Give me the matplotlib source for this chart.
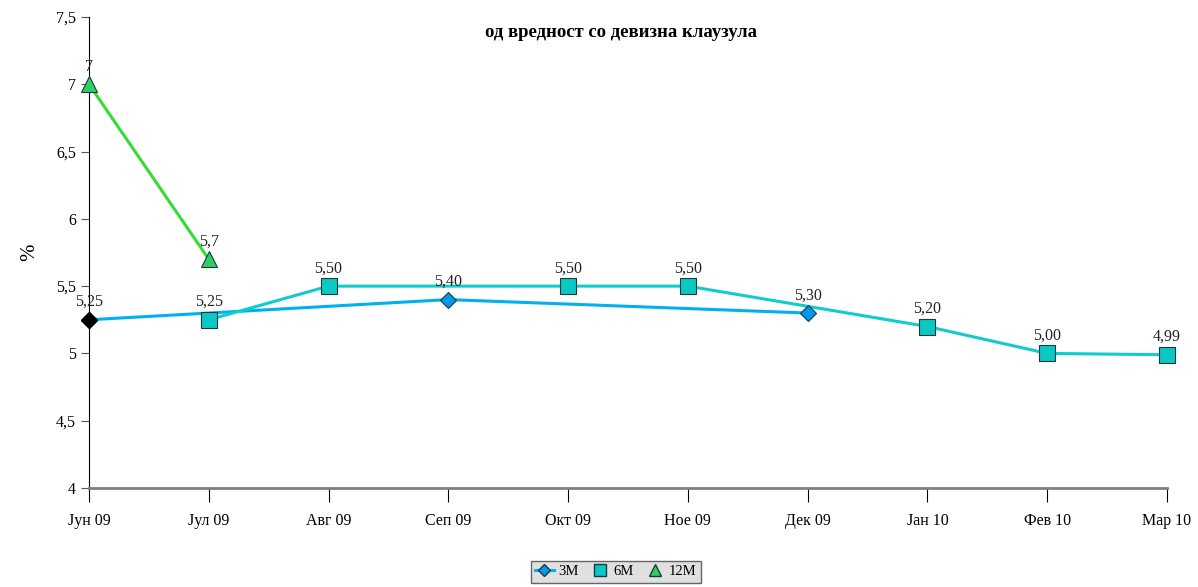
import numpy as np
import matplotlib.pyplot as plt
from matplotlib.lines import Line2D

plt.rcParams['font.family'] = ['Liberation Serif', 'DejaVu Serif']

months = ['Јун 09', 'Јул 09', 'Авг 09', 'Сеп 09', 'Окт 09', 'Ное 09', 'Дек 09', 'Јан 10', 'Фев 10', 'Мар 10']
m3 = [5.25, np.nan, np.nan, 5.40, np.nan, np.nan, 5.30, np.nan, np.nan, np.nan]
m6 = [np.nan, 5.25, 5.50, np.nan, 5.50, 5.50, np.nan, 5.20, 5.00, 4.99]
m12 = [7.0, 5.7, np.nan, np.nan, np.nan, np.nan, np.nan, np.nan, np.nan, np.nan]
lab3 = ['5,25', '', '', '5,40', '', '', '5,30', '', '', '']
lab6 = ['', '5,25', '5,50', '', '5,50', '5,50', '', '5,20', '5,00', '4,99']
lab12 = ['7', '5,7', '', '', '', '', '', '', '', '']

c3 = '#00B0F0'
c6 = '#11CCCC'
c12 = '#33DD33'

fig = plt.figure(figsize=(11.98, 5.87), dpi=100)
ax = fig.add_axes([0.0743, 0.1687, 0.8998, 0.8023])

x = np.arange(len(months))


def plot_series(vals, color, marker, ms, face, labels, lw=2.2):
    v = np.array(vals, dtype=float)
    ok = ~np.isnan(v)
    ax.plot(x[ok], v[ok], color=color, lw=lw, zorder=2, clip_on=False)
    ax.plot(x[ok], v[ok], ls='none', marker=marker, ms=ms, mfc=face,
            mec='#1a3a3a', mew=0.8, zorder=3, clip_on=False)
    for xi, vi, lb in zip(x, v, labels):
        if lb:
            ax.annotate(lb, (xi, vi), xytext=(0, 7), textcoords='offset points',
                        ha='center', va='bottom', fontsize=11.5, color='#222222')


plot_series(m3, c3, 'D', 8, '#0099EE', lab3)
# first 3M marker is black in the original
ax.plot(x[0], m3[0], ls='none', marker='D', ms=8, mfc='black', mec='black',
        zorder=4, clip_on=False)
plot_series(m6, c6, 's', 11, '#0CC8C4', lab6)
plot_series(m12, c12, '^', 12, '#33CC66', lab12)

ax.set_xlim(0, len(months) - 1)
ax.set_ylim(4, 7.5)
ax.set_yticks([4, 4.5, 5, 5.5, 6, 6.5, 7, 7.5])
ax.set_yticklabels(['4', '4,5', '5', '5,5', '6', '6,5', '7', '7,5'], fontsize=11.5)
ax.set_xticks(x)
ax.set_xticklabels(months, fontsize=11.5)
ax.tick_params(axis='x', length=10, pad=8, color='black')
ax.tick_params(axis='y', length=6, color='#555555')

for s in ['top', 'right']:
    ax.spines[s].set_visible(False)
ax.spines['left'].set_color('black')
ax.spines['left'].set_linewidth(0.8)
ax.spines['bottom'].set_color('#808080')
ax.spines['bottom'].set_linewidth(2)

ax.set_ylabel('%', fontsize=15, labelpad=12)

fig.text(0.518, 0.945, 'од вредност со девизна клаузула', ha='center', va='center',
         fontsize=13.5, fontweight='bold')

handles = [
    Line2D([], [], color=c3, lw=2.2, marker='D', ms=6, mfc='#0099EE', mec='#1a3a3a'),
    Line2D([], [], ls='none', marker='s', ms=8, mfc='#0CC8C4', mec='#1a3a3a'),
    Line2D([], [], ls='none', marker='^', ms=8, mfc='#33CC66', mec='#1a3a3a'),
]
leg = fig.legend(handles, ['3M', '6M', '12M'], loc='lower center', bbox_to_anchor=(0.514, -0.005),
                 ncol=3, fontsize=10.5, frameon=True, fancybox=False, handlelength=1.3,
                 handletextpad=0.3, columnspacing=0.8, borderpad=0.3)
leg.get_frame().set_facecolor('#D9D9D9')
leg.get_frame().set_edgecolor('#444444')

fig.savefig('out.png', dpi=100)
